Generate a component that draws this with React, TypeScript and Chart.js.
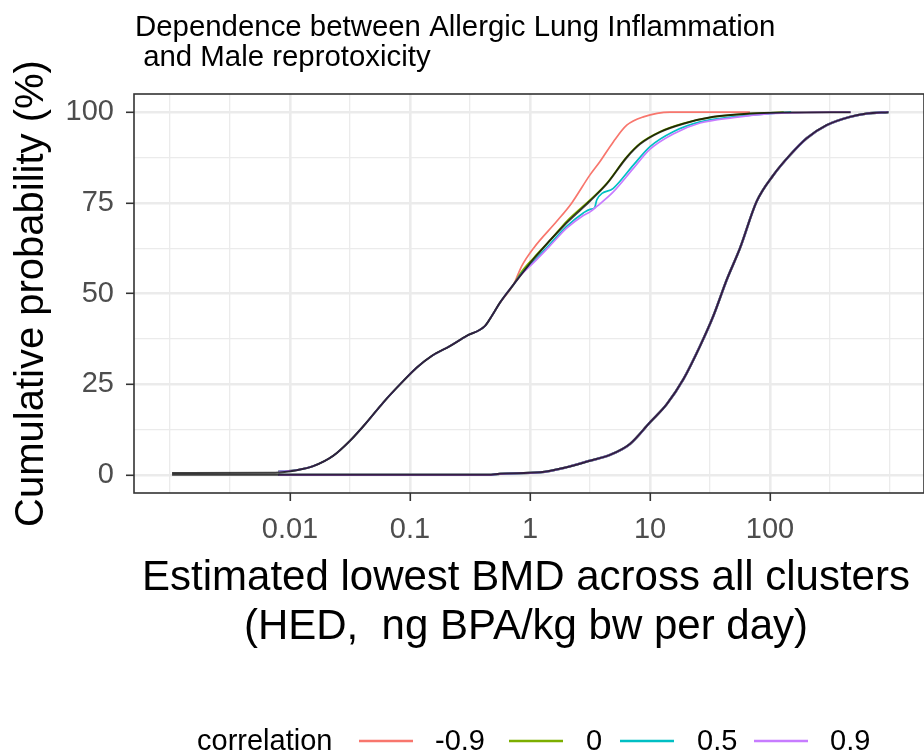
import React, { useEffect, useRef } from 'react';
import { Chart, registerables } from 'chart.js';

Chart.register(...registerables);

const FONT = '"Liberation Sans", Arial, Helvetica, sans-serif';

// ---- text ----
const titleLines = ['Dependence between Allergic Lung Inflammation', ' and Male reprotoxicity'];
const xTitleLines = ['Estimated lowest BMD across all clusters', '(HED,  ng BPA/kg bw per day)'];
const yTitle = 'Cumulative probability (%)';
const legendTitle = 'correlation';
const correlations = ['-0.9', '0', '0.5', '0.9'];
const colors = ['#F8766D', '#7CAE00', '#00BFC4', '#C77CFF'];

// ---- axes ----
const xMajor = [0.01, 0.1, 1, 10, 100];
const xTickLabels = ['0.01', '0.1', '1', '10', '100'];
const xMinor = [0.001, 0.003162, 0.03162, 0.3162, 3.162, 31.62, 316.2, 1000];
const xMin = 0.000501;
const xMax = 1919;
const yMajor = [0, 25, 50, 75, 100];
const yTickLabels = ['0', '25', '50', '75', '100'];
const yMinor = [12.5, 37.5, 62.5, 87.5];
const yMin = -5;
const yMax = 105;

// ---- data: shared lower part of the left curves ----
const lowX = [0.008, 0.0114, 0.0156, 0.023, 0.0316, 0.0436, 0.06, 0.088, 0.114, 0.152, 0.215, 0.296, 0.42, 0.48, 0.56, 0.73];
const lowY = [1.0, 1.3, 2.4, 5.3, 9.4, 14.5, 20, 25.9, 29.6, 32.8, 35.5, 38.3, 41, 43.8, 47.4, 52.5];

// upper parts per correlation
const negUpX = [0.85, 1.07, 1.67, 2.22, 3.16, 3.83, 4.94, 6.4, 8.8, 14.7, 68];
const negUpY = [57.5, 62.5, 69.9, 74.9, 82.7, 86.4, 91.8, 96.4, 98.7, 100, 100];
const zeroUpX = [0.85, 1.07, 1.5, 2.02, 3.16, 4.36, 6.4, 8.26, 12.1, 19, 33.7, 68, 100, 130];
const zeroUpY = [56, 59.8, 65, 69.9, 75.8, 80.4, 87.7, 91.4, 94.6, 96.9, 98.7, 99.6, 99.8, 100];
const halfUpX = [0.85, 1.07, 1.5, 2.02, 2.78, 3.16, 3.45, 3.6, 4.94, 7.26, 10, 15.6, 26.1, 49.4, 100, 150];
const halfUpY = [55.5, 58.8, 64, 68.5, 72.2, 73.2, 73.6, 75.8, 79, 85.4, 90.5, 94.6, 97.3, 98.7, 99.6, 100];
const highUpX = [0.85, 1.07, 1.5, 2.02, 2.78, 3.16, 3.6, 4.94, 7.26, 10, 15.6, 26.1, 49.4, 100, 200, 470];
const highUpY = [55.3, 58.5, 63.5, 68, 71.5, 72.5, 74, 78, 84.5, 89.8, 94, 97, 98.5, 99.6, 99.9, 100];

// dark overall curves
const darkLeftX = [0.00104, 0.0075, 0.0114, 0.0156, 0.023, 0.0316, 0.0436, 0.06, 0.088, 0.114, 0.152, 0.215, 0.296, 0.42, 0.48, 0.56, 0.73, 1.07, 2.02, 3.16, 4.36, 6.4, 8.26, 12.1, 19, 33.7, 68, 150, 470];
const darkLeftY = [0.5, 0.6, 1.3, 2.4, 5.3, 9.4, 14.5, 20, 25.9, 29.6, 32.8, 35.5, 38.3, 41, 43.8, 47.4, 52.5, 59.5, 69.5, 75.5, 80.2, 87.5, 91.2, 94.5, 96.8, 98.7, 99.6, 99.9, 100];
const rightX = [0.00104, 0.008, 0.45, 0.56, 1.21, 2.02, 3.16, 4.64, 6.8, 10, 13.8, 19, 26.1, 33.7, 43.6, 56.2, 77.4, 107, 147, 202, 296, 464, 640, 970];
const rightY = [0, 0, 0, 0.3, 0.7, 2.1, 3.9, 5.5, 8.5, 14.5, 19.5, 26.4, 35.5, 43.8, 53.8, 62.5, 75.4, 82.7, 88.2, 92.8, 96.4, 98.7, 99.6, 100];

const upperX = [negUpX, zeroUpX, halfUpX, highUpX];
const upperY = [negUpY, zeroUpY, halfUpY, highUpY];

const pts = (xs: number[], ys: number[]) => xs.map((x, i) => ({ x, y: ys[i] }));
const near = (a: number, b: number) => Math.abs(Math.log10(a) - Math.log10(b)) < 1e-4;

const lineStyle = {
  pointRadius: 0,
  tension: 0,
  cubicInterpolationMode: 'monotone',
  fill: false,
};

export default function App() {
  const ref = useRef<HTMLCanvasElement>(null);

  useEffect(() => {
    document.body.style.margin = '0';
    const canvas = ref.current!;

    const datasets: any[] = [];
    correlations.forEach((c, i) => {
      datasets.push({
        ...lineStyle,
        label: c,
        data: pts([...lowX, ...upperX[i]], [...lowY, ...upperY[i]]),
        borderColor: colors[i],
        borderWidth: 1.7,
        order: 4 - i,
      });
      datasets.push({
        ...lineStyle,
        label: c + ' (right)',
        data: pts(rightX.slice(1), rightY.slice(1)),
        borderColor: colors[i],
        borderWidth: 2.3,
        order: 4 - i,
      });
    });
    datasets.push({
      ...lineStyle,
      label: 'overall left',
      data: pts(darkLeftX, darkLeftY),
      borderColor: 'rgba(0,0,0,0.75)',
      borderWidth: 2,
      order: 0,
    });
    datasets.push({
      ...lineStyle,
      label: 'overall right',
      data: pts(rightX, rightY),
      borderColor: 'rgba(0,0,0,0.75)',
      borderWidth: 2,
      order: 0,
    });

    const decor = {
      id: 'decor',
      afterDraw(chart: any) {
        const { ctx, chartArea } = chart;
        const { left, right, top, bottom } = chartArea;
        ctx.save();
        // panel border
        ctx.strokeStyle = '#333333';
        ctx.lineWidth = 1.6;
        ctx.strokeRect(left, top, right - left, bottom - top);

        // plot title
        ctx.fillStyle = '#000000';
        ctx.textAlign = 'left';
        ctx.textBaseline = 'alphabetic';
        ctx.font = `29.4px ${FONT}`;
        ctx.fillText(titleLines[0], 135, 36);
        ctx.fillText(titleLines[1], 135, 66);

        // x title
        ctx.font = `42px ${FONT}`;
        ctx.textAlign = 'center';
        const cx = (left + right) / 2 - 3;
        ctx.fillText(xTitleLines[0], cx, 590);
        ctx.fillText(xTitleLines[1], cx, 639);

        // y title
        ctx.save();
        ctx.translate(43, (top + bottom) / 2);
        ctx.rotate(-Math.PI / 2);
        ctx.font = `40px ${FONT}`;
        ctx.textAlign = 'center';
        ctx.fillText(yTitle, 0, 0);
        ctx.restore();

        // legend
        ctx.font = `29px ${FONT}`;
        ctx.textAlign = 'left';
        ctx.fillStyle = '#000000';
        ctx.fillText(legendTitle, 197, 750);
        const keyX = [359, 509, 620, 754];
        const labX = [435, 586, 697, 830];
        correlations.forEach((c, i) => {
          ctx.strokeStyle = colors[i];
          ctx.lineWidth = 2.5;
          ctx.beginPath();
          ctx.moveTo(keyX[i], 741);
          ctx.lineTo(keyX[i] + 54, 741);
          ctx.stroke();
          ctx.fillStyle = '#000000';
          ctx.fillText(c, labX[i], 750);
        });
        ctx.restore();
      },
    };

    const chart = new Chart(canvas, {
      type: 'line',
      data: { datasets },
      options: {
        responsive: false,
        animation: false,
        devicePixelRatio: 1,
        layout: { padding: { top: 94, left: 0, right: 0, bottom: 0 } },
        plugins: {
          legend: { display: false },
          tooltip: { enabled: false },
          title: { display: false },
        },
        scales: {
          x: {
            type: 'logarithmic',
            min: xMin,
            max: xMax,
            afterBuildTicks: (s: any) => {
              s.ticks = [...xMinor, ...xMajor].sort((a, b) => a - b).map((v) => ({ value: v }));
            },
            afterFit: (s: any) => {
              s.height = 260;
            },
            ticks: {
              autoSkip: false,
              maxRotation: 0,
              minRotation: 0,
              padding: 12,
              color: '#4D4D4D',
              font: { family: FONT, size: 29 },
              callback: (v: any) => {
                const i = xMajor.findIndex((m) => near(m, Number(v)));
                return i >= 0 ? xTickLabels[i] : '';
              },
            },
            grid: {
              color: '#EBEBEB',
              lineWidth: (c: any) => (xMajor.some((m) => near(m, c.tick.value)) ? 2.6 : 1.3),
              tickColor: (c: any) => (xMajor.some((m) => near(m, c.tick.value)) ? '#333333' : 'rgba(0,0,0,0)'),
              tickWidth: 1.6,
              tickLength: 8,
            },
            border: { display: false },
          },
          y: {
            type: 'linear',
            min: yMin,
            max: yMax,
            afterBuildTicks: (s: any) => {
              s.ticks = [...yMajor, ...yMinor].sort((a, b) => a - b).map((v) => ({ value: v }));
            },
            afterFit: (s: any) => {
              s.width = 134;
            },
            ticks: {
              autoSkip: false,
              padding: 12,
              color: '#4D4D4D',
              font: { family: FONT, size: 29 },
              callback: (v: any) => {
                const i = yMajor.indexOf(Number(v));
                return i >= 0 ? yTickLabels[i] : '';
              },
            },
            grid: {
              color: '#EBEBEB',
              lineWidth: (c: any) => (yMajor.includes(c.tick.value) ? 2.6 : 1.3),
              tickColor: (c: any) => (yMajor.includes(c.tick.value) ? '#333333' : 'rgba(0,0,0,0)'),
              tickWidth: 1.6,
              tickLength: 8,
            },
            border: { display: false },
          },
        },
      },
      plugins: [decor],
    });

    return () => chart.destroy();
  }, []);

  return (
    <canvas
      ref={ref}
      width={924}
      height={753}
      style={{ display: 'block', width: '924px', height: '753px' }}
    />
  );
}
